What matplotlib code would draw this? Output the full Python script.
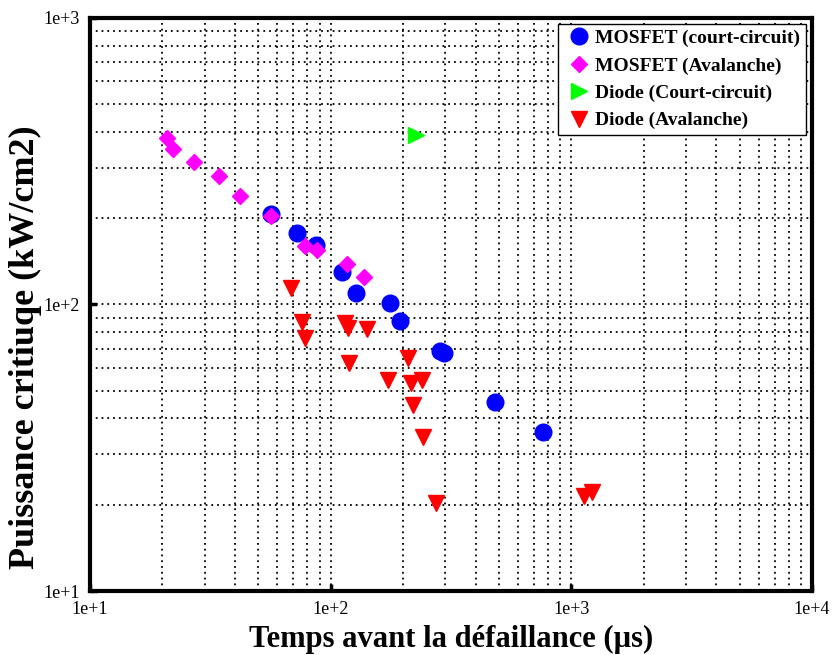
import matplotlib
matplotlib.use("Agg")
import matplotlib.pyplot as plt
from matplotlib.ticker import LogLocator, FixedLocator, NullFormatter

# Data (time in µs, critical power in kW/cm2)
mosfet_cc_t = [56.4, 72.3, 86.7, 112, 128, 177, 195, 285, 295, 484, 766]
mosfet_cc_p = [207, 178, 161, 130, 110, 101, 87.6, 69.0, 67.5, 45.7, 35.9]

mosfet_av_t = [20.9, 22.1, 27.0, 34.3, 41.9, 56.4, 78.0, 87.5, 116.5, 138]
mosfet_av_p = [381, 349, 314, 281, 239, 204, 160, 155, 138, 125]

diode_cc_t = [227]
diode_cc_p = [391]

diode_av_t = [68.2, 75.8, 78.0, 115, 118, 141, 119, 209, 174, 215, 239, 219, 243, 273, 1132, 1222]
diode_av_p = [114, 86.9, 76.4, 86.0, 82.5, 82.1, 62.5, 65.1, 54.5, 53.2, 54.5, 44.6, 34.5, 20.3, 21.5, 22.2]

xticks = [10, 100, 1000, 10000]
xticklabels = ["1e+1", "1e+2", "1e+3", "1e+4"]
yticks = [10, 100, 1000]
yticklabels = ["1e+1", "1e+2", "1e+3"]

serif = ["Liberation Serif", "DejaVu Serif"]

fig = plt.figure(figsize=(8.32, 6.55), dpi=100)
ax = fig.add_axes([0.108, 0.0977, 0.868, 0.875])
ax.set_xscale("log")
ax.set_yscale("log")
ax.set_xlim(10, 10000)
ax.set_ylim(10, 1000)

ax.plot(mosfet_cc_t, mosfet_cc_p, "o", color="#0000ff", ms=12, mec="#0000ff",
        label="MOSFET (court-circuit)", zorder=4)
ax.plot(mosfet_av_t, mosfet_av_p, "D", color="#ff00ff", ms=8, mec="#ff00ff",
        label="MOSFET (Avalanche)", zorder=5)
ax.plot(diode_cc_t, diode_cc_p, ">", color="#00ff00", ms=11, mec="#00ff00",
        label="Diode (Court-circuit)", zorder=4)
ax.plot(diode_av_t, diode_av_p, "v", color="#ff0000", ms=11, mec="#ff0000",
        label="Diode (Avalanche)", zorder=4)

ax.xaxis.set_major_locator(FixedLocator(xticks))
ax.yaxis.set_major_locator(FixedLocator(yticks))
ax.set_xticklabels(xticklabels)
ax.set_yticklabels(yticklabels)
ax.xaxis.set_minor_locator(LogLocator(base=10, subs=range(2, 10)))
ax.yaxis.set_minor_locator(LogLocator(base=10, subs=range(2, 10)))
ax.xaxis.set_minor_formatter(NullFormatter())
ax.yaxis.set_minor_formatter(NullFormatter())

ax.grid(True, which="both", color="black", linestyle=(0, (1, 2.2)), linewidth=1.3)
ax.set_axisbelow(True)

ax.tick_params(which="major", direction="in", length=5, width=2.5, labelsize=13, pad=7)
ax.tick_params(which="minor", length=0)
for lab in ax.get_xticklabels() + ax.get_yticklabels():
    lab.set_family(serif)

for sp in ax.spines.values():
    sp.set_linewidth(3)
    sp.set_color("black")

ax.set_xlabel("Temps avant la défaillance (µs)", family=serif, fontweight="bold",
              fontsize=22, labelpad=5)
ax.set_ylabel("Puissance critiuqe (kW/cm2)", family=serif, fontweight="bold",
              fontsize=26, labelpad=1)
ax.yaxis.label.set_y(0.425)

leg = ax.legend(loc="upper right", prop={"family": serif, "weight": "bold", "size": 14},
                frameon=True, fancybox=False, edgecolor="black", framealpha=1,
                borderaxespad=0.3, handletextpad=0.1, handlelength=1.5,
                borderpad=0.3, labelspacing=0.5)
leg.get_frame().set_linewidth(1)

fig.savefig("out.png", dpi=100)
